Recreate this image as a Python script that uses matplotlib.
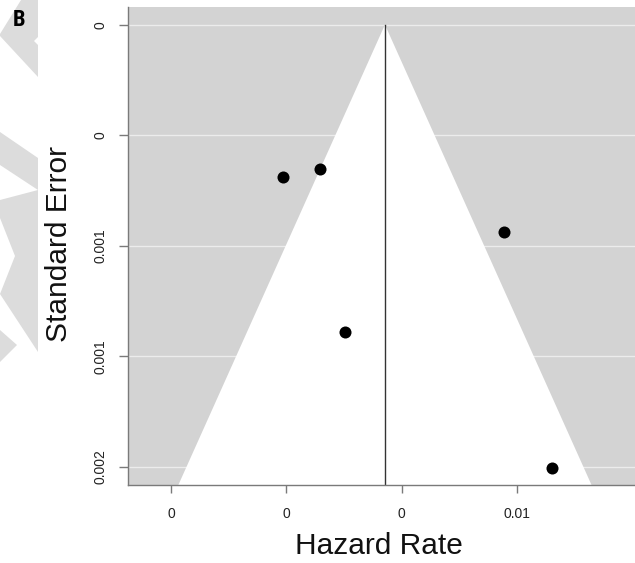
import matplotlib
matplotlib.use("Agg")
import matplotlib.pyplot as plt
from matplotlib.patches import Polygon

plt.rcParams['font.family'] = ['Liberation Sans', 'DejaVu Sans']

# ---- data ----
hazard_rate = [0.00194, 0.00258, 0.00301, 0.00578, 0.00660]
std_error = [0.000552, 0.000523, 0.001111, 0.000752, 0.001604]
pooled_estimate = 0.00371
funnel_z = 2.15
x_ticks = [0.0, 0.002, 0.004, 0.006]
x_tick_labels = ["0", "0", "0", "0.01"]
y_ticks = [0.0, 0.0004, 0.0008, 0.0012, 0.0016]
y_tick_labels = ["0", "0", "0.001", "0.001", "0.002"]

W, H = 635, 563
fig = plt.figure(figsize=(W / 100, H / 100), dpi=100)
fig.patch.set_facecolor('white')

def px(pts):
    return [(x / W, 1 - y / H) for x, y in pts]

# faint watermark shapes at the left edge
wm_color = '#dcdcdc'
shapes = [
    [(0, 34), (21, 0), (38, 0), (38, 37), (34, 41), (38, 45), (38, 77), (0, 36)],
    [(0, 132), (38, 158), (38, 190), (0, 165)],
    [(0, 200), (38, 190), (38, 352), (0, 294), (15, 256), (0, 218)],
    [(0, 330), (17, 345), (0, 362)],
]
for s in shapes:
    fig.add_artist(Polygon(px(s), closed=True, transform=fig.transFigure,
                           facecolor=wm_color, edgecolor='none', zorder=0))

ax_l, ax_r, ax_t, ax_b = 128.3, 635, 7, 485
ax = fig.add_axes([ax_l / W, 1 - ax_b / H, (ax_r - ax_l) / W, (ax_b - ax_t) / H])
ax.set_facecolor('#d3d3d3')

xmin, xmax = -0.0007405, 0.0080462
ymin, ymax = -0.0000641, 0.0016663
ax.set_xlim(xmin, xmax)
ax.set_ylim(ymax, ymin)

# grid lines (horizontal only)
ax.set_axisbelow(True)
ax.yaxis.grid(True, color='#ececec', linewidth=1.0)
ax.xaxis.grid(False)

# funnel
c = pooled_estimate
funnel = Polygon([(c - funnel_z * ymax, ymax), (c, 0.0), (c + funnel_z * ymax, ymax)],
                 closed=True, facecolor='white', edgecolor='none', zorder=1)
ax.add_patch(funnel)
ax.plot([c, c], [0.0, ymax], color='#333333', linewidth=1.0, zorder=2)

ax.scatter(hazard_rate, std_error, s=75, color='black', zorder=3, linewidths=0)

# axes styling
for side in ['top', 'right']:
    ax.spines[side].set_visible(False)
for side in ['left', 'bottom']:
    ax.spines[side].set_color('#7a7a7a')
    ax.spines[side].set_linewidth(1.0)

ax.set_xticks(x_ticks)
ax.set_xticklabels(x_tick_labels)
ax.set_yticks(y_ticks)
ax.set_yticklabels(y_tick_labels, rotation=90, va='center')
ax.tick_params(axis='both', direction='out', color='#7a7a7a', width=1.0,
               labelsize=10, labelcolor='#222222')
ax.tick_params(axis='x', length=6, pad=9.5)
ax.tick_params(axis='y', length=6.5, pad=8.5)

fig.text(379 / W, 1 - 546 / H, 'Hazard Rate', fontsize=21.5, ha='center', va='center',
         color='#111111')
fig.text(59 / W, 1 - 244 / H, 'Standard Error', fontsize=21.5, rotation=90,
         ha='center', va='center', color='#111111')

fig.text(19 / W, 1 - 20 / H, 'B', fontsize=16, fontweight='bold',
         family=['Roboto Condensed', 'Liberation Sans Narrow', 'DejaVu Sans'],
         fontstretch='condensed', ha='center', va='center', color='black')

fig.savefig('out.png', dpi=100)
